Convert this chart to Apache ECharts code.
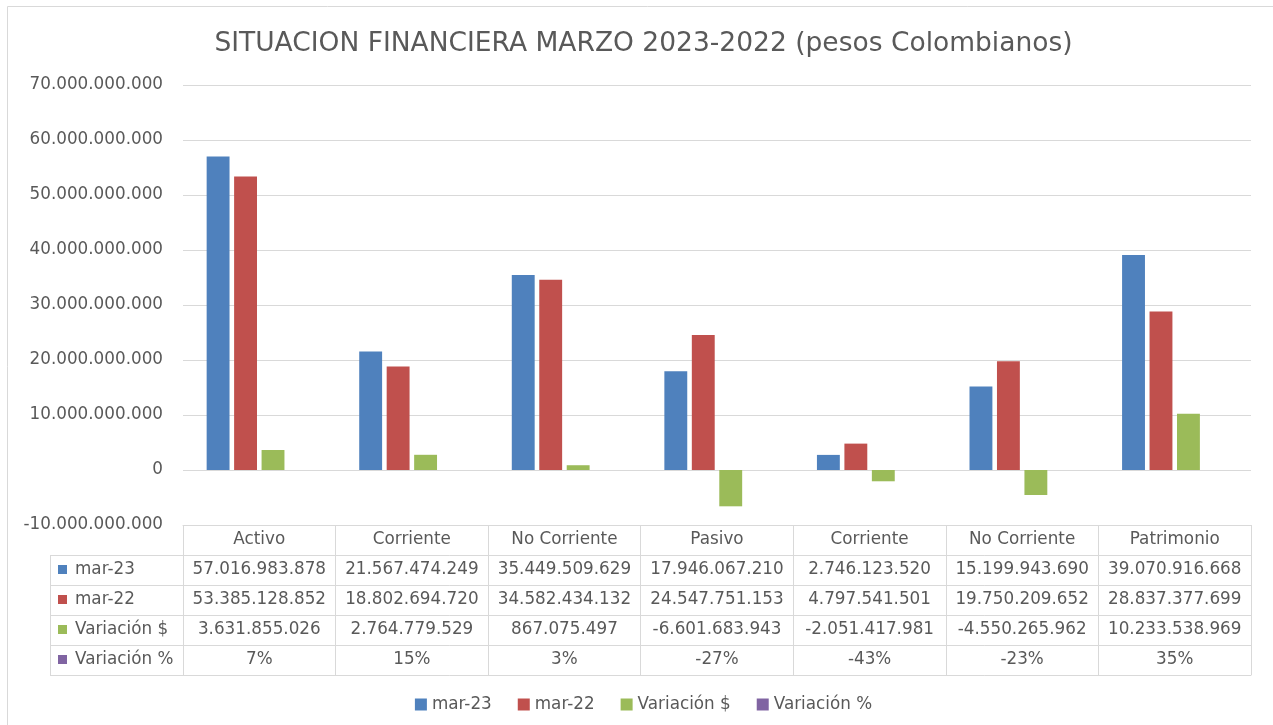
<!DOCTYPE html>
<html><head><meta charset="utf-8">
<script src="https://cdn.jsdelivr.net/npm/echarts@6/dist/echarts.min.js"></script>
<style>html,body{margin:0;padding:0;background:#fff;overflow:hidden}#c{width:1287px;height:725px}</style>
</head><body><div id="c"></div>
<script>
const categories = ['Activo','Corriente','No Corriente','Pasivo','Corriente','No Corriente','Patrimonio'];
const seriesNames = ['mar-23','mar-22','Variación $','Variación %'];
const mar23 = [57016983878, 21567474249, 35449509629, 17946067210, 2746123520, 15199943690, 39070916668];
const mar22 = [53385128852, 18802694720, 34582434132, 24547751153, 4797541501, 19750209652, 28837377699];
const variacionPesos = [3631855026, 2764779529, 867075497, -6601683943, -2051417981, -4550265962, 10233538969];
const variacionPct = [0.07, 0.15, 0.03, -0.27, -0.43, -0.23, 0.35];
const yMin = -10000000000, yMax = 70000000000, yInterval = 10000000000;
const titleText = 'SITUACION FINANCIERA MARZO 2023-2022 (pesos Colombianos)';

const colors = ['#4F81BD','#C0504D','#9BBB59','#8064A2'];
const FONT = 'DejaVu Sans';
const TXT = '#595959';
const LINE = '#D9D9D9';
const FS = 16.8;
const W = 1287, H = 725;
const GRID = {left:183, right:36, top:85, bottom:200};
const ROW_H = 30;
const NAME_X = 58;

function fmt(v){
  const s = Math.abs(Math.round(v)).toString().replace(/\B(?=(\d{3})+(?!\d))/g,'.');
  return (v < 0 ? '-' : '') + s;
}
function pct(v){ return Math.round(v*100) + '%'; }

const rows = [mar23, mar22, variacionPesos, variacionPct];
const baseAxis = {
  type:'category', data:categories, position:'bottom', gridIndex:0,
  axisLine:{show:true, onZero:false, lineStyle:{color:LINE, width:1}},
  axisTick:{show:true, length:ROW_H, interval:0, lineStyle:{color:LINE, width:1}},
  splitLine:{show:false},
  axisLabel:{interval:0, margin:6, color:TXT, fontSize:FS, fontFamily:FONT}
};
const xAxes = [Object.assign({}, baseAxis, {offset:0})];
rows.forEach((r, i) => {
  const rich = {};
  rich['s'+i] = {width:9, height:9, backgroundColor:colors[i]};
  rich.t = {color:TXT, fontSize:FS, fontFamily:FONT, padding:[0,0,0,8]};
  xAxes.push(Object.assign({}, baseAxis, {
    offset: ROW_H*(i+1),
    axisLabel: Object.assign({}, baseAxis.axisLabel, {
      formatter: (v, idx) => i === 3 ? pct(r[idx]) : fmt(r[idx])
    }),
    name: '{s'+i+'|}{t|' + seriesNames[i] + '}',
    nameLocation:'start',
    nameGap: GRID.left - NAME_X,
    nameTextStyle:{align:'left', verticalAlign:'top', padding:[6,0,0,0], rich:rich}
  }));
});
xAxes.push(Object.assign({}, baseAxis, {
  offset: ROW_H*5, axisTick:{show:false}, axisLabel:{show:false}
}));

const tableTop = H - GRID.bottom;
const graphics = [
  {type:'rect', shape:{x:7.5, y:6.5, width:W+20, height:H+20}, style:{fill:'none', stroke:LINE, lineWidth:1}, silent:true}
];
for (let i = 1; i <= 5; i++) {
  graphics.push({type:'line', shape:{x1:NAME_X-8, y1:tableTop+ROW_H*i+0.5, x2:GRID.left, y2:tableTop+ROW_H*i+0.5}, style:{stroke:LINE, lineWidth:1}, silent:true});
}
graphics.push({type:'line', shape:{x1:NAME_X-8+0.5, y1:tableTop+ROW_H, x2:NAME_X-8+0.5, y2:tableTop+ROW_H*5}, style:{stroke:LINE, lineWidth:1}, silent:true});

const seriesData = [mar23, mar22, variacionPesos, variacionPct];
const series = seriesData.map((d, i) => ({
  name: seriesNames[i], type:'bar', xAxisIndex:0, data:d,
  barGap:'20%', barCategoryGap:'31%',
  itemStyle:{color:colors[i]},
  emphasis:{disabled:true}
}));

const chart = echarts.init(document.getElementById('c'), null, {renderer:'canvas'});
chart.setOption({
  animation:false,
  color: colors,
  title:{text:titleText, left:'center', top:26, textStyle:{color:TXT, fontSize:26.5, fontWeight:'normal', fontFamily:FONT}},
  grid:{left:GRID.left, right:GRID.right, top:GRID.top, bottom:GRID.bottom, containLabel:false},
  legend:{data:seriesNames, bottom:7, left:'center', icon:'rect', itemWidth:12, itemHeight:12, itemGap:26,
    textStyle:{color:TXT, fontSize:FS, fontFamily:FONT}},
  xAxis: xAxes,
  yAxis:{type:'value', min:yMin, max:yMax, interval:yInterval,
    axisLine:{show:false}, axisTick:{show:false},
    axisLabel:{formatter:fmt, color:TXT, fontSize:FS, fontFamily:FONT, margin:20},
    splitLine:{lineStyle:{color:LINE, width:1}}},
  series: series,
  graphic: graphics
});
</script></body></html>
